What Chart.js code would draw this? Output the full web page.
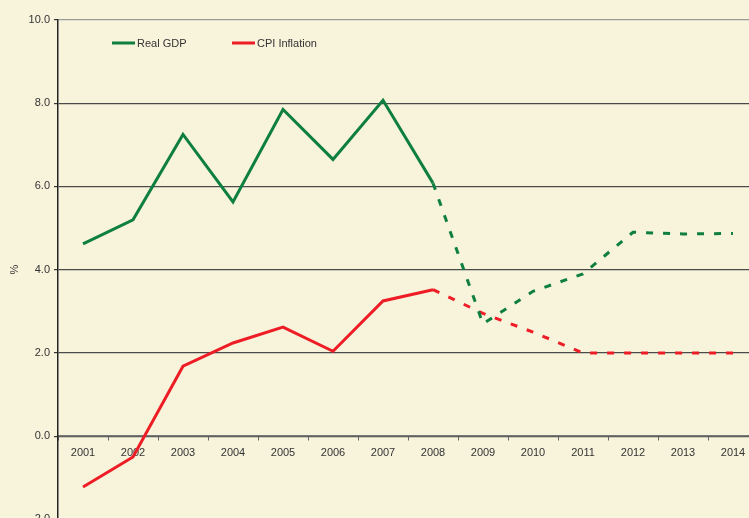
<!DOCTYPE html>
<html>
<head>
<meta charset="utf-8">
<script src="https://cdn.jsdelivr.net/npm/chart.js@4"></script>
<style>
    html, body { margin: 0; padding: 0; background: #f8f4dc; overflow: hidden; }
    #wrap { position: relative; width: 768px; height: 530px; }
</style>
</head>
<body>
<div id="wrap"><canvas id="chart"></canvas></div>
<script>
// Real GDP and CPI inflation, actual to 2008 and forecast after

const YEARS = ["2001", "2002", "2003", "2004", "2005", "2006", "2007",
    "2008", "2009", "2010", "2011", "2012", "2013", "2014"];
const REAL_GDP = [4.62, 5.2, 7.25, 5.63, 7.85, 6.65, 8.07, 6.08, 2.7, 3.48, 3.9, 4.9, 4.86, 4.87];
const CPI_INFLATION = [-1.22, -0.5, 1.68, 2.24, 2.62, 2.04, 3.25, 3.52, 2.95, 2.5, 2.0, 2.0, 2.0, 2.0];
const Y_TICKS = [-2, 0, 2, 4, 6, 8, 10];
const LAST_ACTUAL = 7; // index of 2008, dashed from here on

const FONT = { family: "Arial, 'Liberation Sans', sans-serif", size: 11 };
const TEXT = "#333333";

// draws the key inside the plot area, top left
const inlineLegend = {
    id: "inlineLegend",
    afterDraw(chart) {
        const { ctx, chartArea } = chart;
        const offsets = [54, 174];
        ctx.save();
        ctx.font = `${FONT.size}px ${FONT.family}`;
        ctx.textBaseline = "middle";
        chart.data.datasets.forEach((ds, i) => {
            const x = chartArea.left + offsets[i];
            const y = chartArea.top + 23;
            ctx.strokeStyle = ds.borderColor;
            ctx.lineWidth = 3;
            ctx.beginPath();
            ctx.moveTo(x, y);
            ctx.lineTo(x + 23, y);
            ctx.stroke();
            ctx.fillStyle = TEXT;
            ctx.fillText(ds.label, x + 25, y + 0.5);
        });
        ctx.restore();
    }
};

const dashAfterActual = (ctx) => ctx.p0DataIndex >= LAST_ACTUAL ? [7, 10] : undefined;

new Chart(document.getElementById("chart"), {
    type: "line",
    data: {
        labels: YEARS,
        datasets: [
            {
                label: "Real GDP",
                data: REAL_GDP,
                borderColor: "#0f7f3f",
                borderWidth: 3,
                pointRadius: 0,
                tension: 0,
                borderCapStyle: "butt",
                segment: { borderDash: dashAfterActual },
            },
            {
                label: "CPI Inflation",
                data: CPI_INFLATION,
                borderColor: "#ee1d25",
                borderWidth: 3,
                pointRadius: 0,
                tension: 0,
                borderCapStyle: "butt",
                segment: { borderDash: dashAfterActual },
            },
        ]
    },
    options: {
        responsive: true,
        maintainAspectRatio: false,
        animation: false,
        layout: { padding: { top: 20, right: 10, bottom: 8, left: 0 } },
        plugins: {
            legend: { display: false },
            tooltip: { enabled: false },
        },
        scales: {
            x: {
                type: "category",
                position: { y: 0 },
                offset: true,
                grid: {
                    offset: true,
                    drawOnChartArea: false,
                    tickLength: 4,
                    tickColor: "#666666",
                },
                border: { color: "#777777", width: 1.5 },
                ticks: { color: TEXT, font: FONT, padding: 6, maxRotation: 0, autoSkip: false },
            },
            y: {
                min: -2,
                max: 10,
                afterBuildTicks: (scale) => { scale.ticks = Y_TICKS.map(v => ({ value: v })); },
                afterFit: (scale) => { scale.width = 58; },
                grid: {
                    color: (c) => c.tick && c.tick.value === 10 ? "#9a9a9a" : "#4a4a4a",
                    lineWidth: 1.2,
                    tickLength: 4,
                    tickColor: "#333333",
                },
                border: { color: "#222222", width: 1.5 },
                ticks: {
                    color: TEXT,
                    font: FONT,
                    padding: 4,
                    callback: (v) => Number(v).toFixed(1),
                },
                title: {
                    display: true,
                    text: "%",
                    color: TEXT,
                    font: FONT,
                    padding: { top: 8, bottom: 0 },
                },
            },
        },
    },
    plugins: [inlineLegend],
});
</script>
</body>
</html>
